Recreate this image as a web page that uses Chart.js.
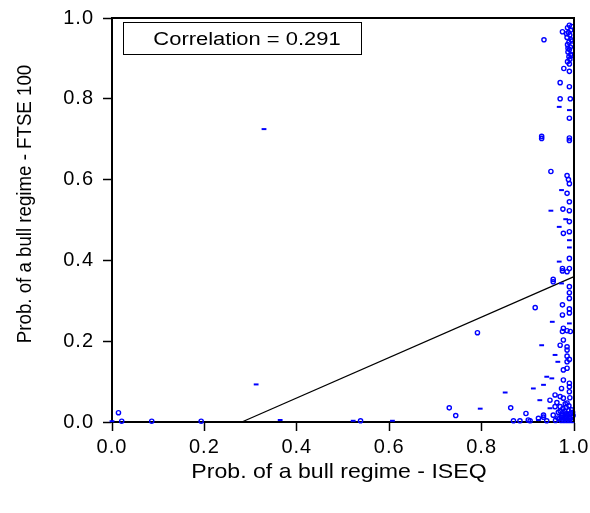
<!DOCTYPE html>
<html>
<head>
<meta charset="utf-8">
<title>Bull regime probabilities: ISEQ vs FTSE 100</title>
<script src="https://cdn.jsdelivr.net/npm/chart.js@4/dist/chart.umd.min.js"></script>
<style>
  html, body { margin: 0; padding: 0; background: #ffffff; }
  #wrap { width: 590px; height: 513px; }
</style>
</head>
<body>
<div id="wrap"><canvas id="chart" width="590" height="513"></canvas></div>
<script>
// Smoothed probability of a bull regime (ISEQ on x, FTSE 100 on y), round markers
const roundX = [0.975,0.935,
  0.990,0.986,0.993,0.988,0.991,0.985,0.994,0.989,0.986,0.992,0.990,0.987,0.993,0.989,0.991,0.986,
  0.995,0.984,0.996,0.987,0.994,0.990,
  0.978,0.990,0.970,0.990,0.970,0.992,0.990,
  0.930,0.930,0.990,0.990,
  0.950,0.985,0.988,0.990,0.985,0.990,0.976,0.990,0.990,0.977,0.990,0.990,0.975,0.975,0.990,0.955,
  0.985,0.955,0.990,0.990,0.990,0.916,0.975,0.990,0.990,0.975,0.977,0.975,0.985,0.992,0.977,0.970,
  0.985,0.985,0.985,0.985,0.990,0.985,0.977,0.977,0.990,0.990,0.973,0.990,0.959,0.970,0.948,0.977,
  0.963,0.985,0.970,0.959,0.896,0.934,0.955,
  0.972,0.978,0.984,0.990,0.996,0.972,0.978,0.984,0.990,0.996,0.975,0.981,0.987,0.993,0.970,0.980,
  0.988,0.995,0.901,0.941,0.923,0.934,0.960,0.965,
  0.968,0.974,0.980,0.986,0.992,0.998,0.966,0.976,0.983,0.989,0.997,0.981,0.991,
  0.791,0.730,0.863,0.744,0.869,0.883,0.905,
  0.014,0.021,0.086,0.193,0.538];
const roundY = [0.966,0.946,
  0.982,0.976,0.970,0.964,0.958,0.952,0.946,0.940,0.934,0.928,0.922,0.916,0.910,0.904,0.898,0.892,
  0.979,0.961,0.943,0.925,0.907,0.886,
  0.875,0.868,0.840,0.830,0.800,0.800,0.752,
  0.702,0.707,0.703,0.697,
  0.620,0.610,0.600,0.590,0.566,0.545,0.527,0.523,0.496,0.467,0.471,0.405,0.380,0.374,0.380,0.353,
  0.372,0.347,0.335,0.320,0.306,0.283,0.290,0.280,0.270,0.265,0.232,0.224,0.226,0.224,0.203,0.190,
  0.186,0.178,0.163,0.149,0.155,0.133,0.129,0.104,0.096,0.087,0.083,0.075,0.067,0.063,0.054,0.059,
  0.048,0.047,0.038,0.038,0.021,0.017,0.017,
  0.004,0.004,0.004,0.004,0.004,0.012,0.012,0.012,0.012,0.012,0.020,0.020,0.020,0.020,0.027,0.027,
  0.028,0.030,0.005,0.003,0.009,0.012,0.004,0.010,
  0.008,0.016,0.008,0.016,0.008,0.016,0.024,0.033,0.036,0.040,0.024,0.045,0.060,
  0.221,0.035,0.035,0.016,0.003,0.003,0.003,
  0.023,0.002,0.002,0.002,0.003];

// Observations whose marker prints as a short flat stroke
const flatX = [0.329,0.968,0.990,0.973,0.950,0.982,0.968,0.990,0.990,0.968,0.973,0.953,0.990,0.930,
  0.959,0.965,0.941,0.952,0.912,0.934,0.926,0.948,0.923,0.851,0.797,0.607,0.312,0.364,0.522,0.000];
const flatY = [0.725,0.780,0.772,0.574,0.523,0.502,0.483,0.450,0.432,0.397,0.343,0.248,0.244,0.190,
  0.166,0.149,0.112,0.108,0.083,0.092,0.054,0.034,0.005,0.073,0.033,0.003,0.093,0.005,0.003,0.002];

// Fitted line end points
const fitX = [0.281, 1.0];
const fitY = [0.0, 0.36];

const correlationText = 'Correlation = 0.291';
const xTickLabels = ['0.0','0.2','0.4','0.6','0.8','1.0'];
const yTickLabels = ['0.0','0.2','0.4','0.6','0.8','1.0'];
const xTitle = 'Prob. of a bull regime - ISEQ';
const yTitle = 'Prob. of a bull regime - FTSE 100';

const zip = (xs, ys) => xs.map((x, i) => ({ x: x, y: ys[i] }));
const FONT = "'Liberation Sans', Arial, Helvetica, sans-serif";
const BLUE = '#0000ff';

// Slightly open letter spacing for tick labels
const spacingPlugin = {
  id: 'spacing',
  beforeDraw(chart) { chart.ctx.letterSpacing = '1px'; },
  afterDraw(chart) { chart.ctx.letterSpacing = '0px'; }
};

// Closed frame, axis titles and the correlation box
const framePlugin = {
  id: 'frame',
  afterDraw(chart) {
    const { ctx, chartArea: a } = chart;
    ctx.save();
    ctx.letterSpacing = '0px';
    ctx.strokeStyle = '#000';
    ctx.lineWidth = 2;
    ctx.beginPath();
    ctx.moveTo(a.left, a.top);
    ctx.lineTo(a.right, a.top);
    ctx.lineTo(a.right, a.bottom);
    ctx.stroke();

    // correlation box
    const bx = a.left + 11, by = a.top + 4, bw = 238, bh = 32;
    ctx.lineWidth = 1;
    ctx.fillStyle = '#fff';
    ctx.fillRect(bx, by, bw, bh);
    ctx.strokeRect(bx + 0.5, by + 0.5, bw, bh);
    ctx.fillStyle = '#000';
    ctx.font = '18px ' + FONT;
    ctx.textAlign = 'center';
    ctx.textBaseline = 'middle';
    ctx.save();
    ctx.translate(bx + bw / 2 + 5, by + bh / 2 + 2);
    ctx.scale(1.22, 1);
    ctx.fillText(correlationText, 0, 0);
    ctx.restore();

    // x axis title
    ctx.font = '21px ' + FONT;
    ctx.save();
    ctx.translate((a.left + a.right) / 2 - 4, a.bottom + 50);
    ctx.scale(1.1, 1);
    ctx.fillText(xTitle, 0, 0);
    ctx.restore();

    // y axis title
    ctx.save();
    ctx.translate(25, (a.top + a.bottom) / 2 - 16);
    ctx.rotate(-Math.PI / 2);
    ctx.scale(0.89, 1);
    ctx.fillText(yTitle, 0, 0);
    ctx.restore();
    ctx.restore();
  }
};

new Chart(document.getElementById('chart'), {
  type: 'scatter',
  data: {
    datasets: [
      {
        label: 'round',
        data: zip(roundX, roundY),
        pointStyle: 'circle',
        pointRadius: 2.1,
        pointBorderWidth: 1.4,
        borderColor: BLUE,
        backgroundColor: 'rgba(0,0,0,0)',
        clip: false
      },
      {
        label: 'flat',
        data: zip(flatX, flatY),
        pointStyle: 'line',
        pointRadius: 2.4,
        pointBorderWidth: 2,
        borderColor: BLUE,
        backgroundColor: BLUE,
        clip: false
      },
      {
        type: 'line',
        label: 'fit',
        data: zip(fitX, fitY),
        borderColor: '#000',
        borderWidth: 1.3,
        pointRadius: 0,
        fill: false,
        clip: false
      }
    ]
  },
  options: {
    responsive: false,
    devicePixelRatio: 1,
    animation: false,
    events: [],
    layout: { padding: { top: 18, right: 16, bottom: 0, left: 0 } },
    plugins: { legend: { display: false }, tooltip: { enabled: false } },
    scales: {
      x: {
        type: 'linear',
        min: 0, max: 1,
        afterFit(scale) {
          scale.height = 91;
          scale.paddingLeft = 0;
          scale.paddingRight = 0;
        },
        afterBuildTicks(scale) { scale.ticks = xTickLabels.map(t => ({ value: parseFloat(t) })); },
        ticks: {
          callback: (v, i) => xTickLabels[i],
          color: '#000',
          font: { family: FONT, size: 20 },
          padding: 4,
          maxRotation: 0
        },
        grid: { drawOnChartArea: false, drawTicks: true, tickLength: 9, tickWidth: 1.5, tickColor: '#000' },
        border: { display: true, color: '#000', width: 2 },
        title: { display: false }
      },
      y: {
        type: 'linear',
        min: 0, max: 1,
        afterFit(scale) {
          scale.width = 112;
          scale.paddingTop = 0;
          scale.paddingBottom = 0;
        },
        afterBuildTicks(scale) { scale.ticks = yTickLabels.map(t => ({ value: parseFloat(t) })); },
        ticks: {
          callback: (v, i) => yTickLabels[i],
          color: '#000',
          font: { family: FONT, size: 20 },
          padding: 9
        },
        grid: { drawOnChartArea: false, drawTicks: true, tickLength: 9, tickWidth: 1.5, tickColor: '#000' },
        border: { display: true, color: '#000', width: 2 },
        title: { display: false }
      }
    }
  },
  plugins: [spacingPlugin, framePlugin]
});
</script>
</body>
</html>
